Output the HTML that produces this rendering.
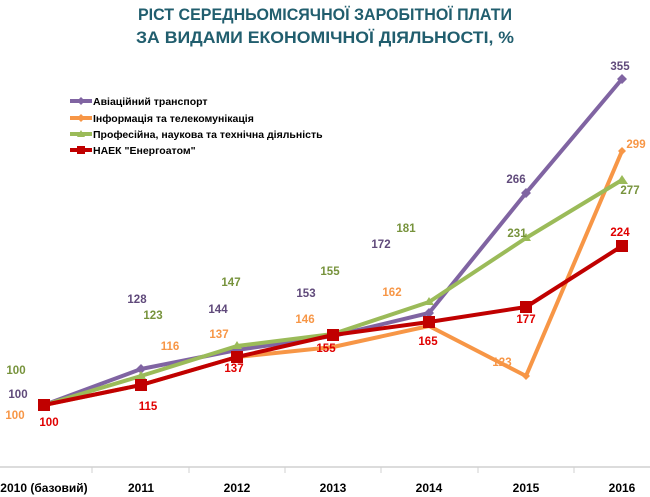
<!DOCTYPE html>
<html><head><meta charset="utf-8"><style>body{margin:0;background:#fff}svg{display:block}text{font-family:"Liberation Sans",sans-serif}</style></head><body>
<svg width="650" height="497" viewBox="0 0 650 497">
<text x="325" y="20" text-anchor="middle" font-size="17" font-weight="bold" fill="#215e6e" textLength="374" lengthAdjust="spacingAndGlyphs">РІСТ СЕРЕДНЬОМІСЯЧНОЇ ЗАРОБІТНОЇ ПЛАТИ</text>
<text x="325" y="43" text-anchor="middle" font-size="17" font-weight="bold" fill="#215e6e" textLength="378" lengthAdjust="spacingAndGlyphs">ЗА ВИДАМИ ЕКОНОМІЧНОЇ ДІЯЛЬНОСТІ, %</text>
<g font-size="10.5" font-weight="bold" fill="#000">
<line x1="70" y1="101" x2="92" y2="101" stroke="#8064a2" stroke-width="4"/><path d="M81 97l4 4-4 4-4-4z" fill="#8064a2"/><text x="93" y="105">Авіаційний  транспорт</text>
<line x1="70" y1="118" x2="92" y2="118" stroke="#f79646" stroke-width="4"/><path d="M81 114l4 4-4 4-4-4z" fill="#f79646"/><text x="93" y="122">Інформація та телекомунікація</text>
<line x1="70" y1="134" x2="92" y2="134" stroke="#9bbb59" stroke-width="4"/><path d="M81 130l4 7h-8z" fill="#9bbb59"/><text x="93" y="138">Професійна, наукова та технічна діяльність</text>
<line x1="70" y1="150" x2="92" y2="150" stroke="#c00000" stroke-width="4"/><rect x="77" y="146" width="8" height="8" fill="#c00000"/><text x="93" y="154">НАЕК "Енергоатом"</text>
</g>
<line x1="0" y1="467" x2="650" y2="467" stroke="#d0d0d0" stroke-width="1.5"/>
<g stroke="#d0d0d0"><line x1="92" y1="467" x2="92" y2="473"/><line x1="189" y1="467" x2="189" y2="473"/><line x1="285" y1="467" x2="285" y2="473"/><line x1="381" y1="467" x2="381" y2="473"/><line x1="478" y1="467" x2="478" y2="473"/><line x1="574" y1="467" x2="574" y2="473"/></g>
<g font-size="12" font-weight="bold" text-anchor="middle" fill="#000">
<text x="44" y="492">2010 (базовий)</text><text x="141" y="492">2011</text><text x="237" y="492">2012</text><text x="333" y="492">2013</text><text x="429" y="492">2014</text><text x="526" y="492">2015</text><text x="622" y="492">2016</text></g>
<g fill="none" stroke-width="4" stroke-linejoin="round">
<polyline stroke="#f79646" points="44,405 141,385 237,357 333,347 429,326 526,376 622,151"/>
<polyline stroke="#8064a2" points="44,405 141,369 237,350 333,336 429,313 526,193 622,79"/>
<polyline stroke="#9bbb59" points="44,405 141,376 237,346 333,334 429,302 526,238 622,180"/>
<polyline stroke="#c00000" points="44,405 141,385 237,357 333,335 429,322 526,307 622,246"/>
</g>
<g fill="#8064a2"><path d="M141 364l5 5-5 5-5-5zM237 345l5 5-5 5-5-5zM429 308l5 5-5 5-5-5zM526 188l5 5-5 5-5-5zM622 74l5 5-5 5-5-5z"/></g>
<g fill="#f79646"><path d="M526 372l4 4-4 4-4-4zM622 147l4 4-4 4-4-4z"/></g>
<g fill="#9bbb59"><path d="M141 371l5 8h-10zM237 341l5 8h-10zM429 297l5 8h-10zM526 233l5 8h-10zM622 175l6 9h-12z"/></g>
<g fill="#c00000"><rect x="38" y="399" width="12" height="12"/><rect x="135" y="379" width="12" height="12"/><rect x="231" y="351" width="12" height="12"/><rect x="327" y="329" width="12" height="12"/><rect x="423" y="316" width="12" height="12"/><rect x="520" y="301" width="12" height="12"/><rect x="616" y="240" width="12" height="12"/></g>
<g font-size="11.5" font-weight="bold" text-anchor="middle">
<g fill="#77933c"><text x="16" y="374">100</text><text x="153" y="319">123</text><text x="231" y="286">147</text><text x="330" y="275">155</text><text x="406" y="232">181</text><text x="517" y="237">231</text><text x="630" y="194">277</text></g>
<g fill="#604a7b"><text x="18" y="398">100</text><text x="137" y="303">128</text><text x="218" y="313">144</text><text x="306" y="297">153</text><text x="381" y="248">172</text><text x="516" y="183">266</text><text x="620" y="70">355</text></g>
<g fill="#f79646"><text x="15" y="419">100</text><text x="170" y="350">116</text><text x="219" y="338">137</text><text x="305" y="323">146</text><text x="392" y="296">162</text><text x="502" y="366">123</text><text x="636" y="148">299</text></g>
<g fill="#e00000"><text x="49" y="426">100</text><text x="148" y="410">115</text><text x="234" y="372">137</text><text x="326" y="352">155</text><text x="428" y="345">165</text><text x="526" y="323">177</text><text x="620" y="236">224</text></g>
</g>
</svg>
</body></html>
